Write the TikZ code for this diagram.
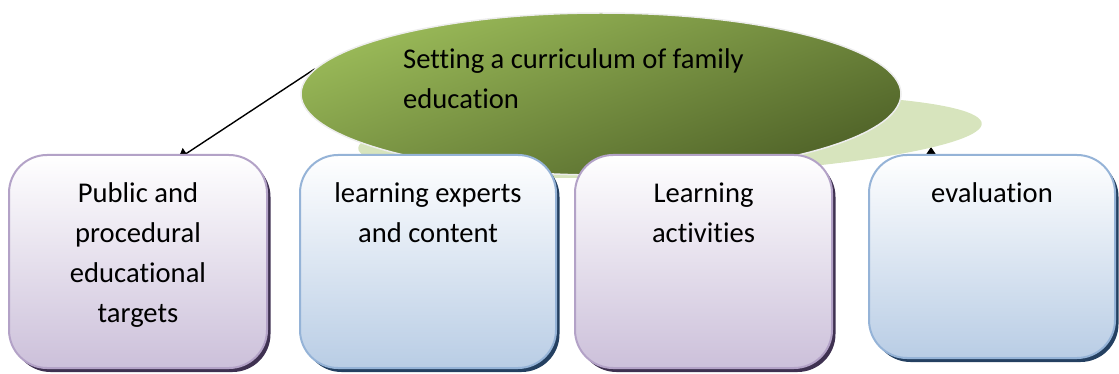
\documentclass[tikz,border=0pt]{standalone}
\usepackage{fontspec}
\setmainfont[Ligatures=NoCommon]{Carlito}
\usetikzlibrary{arrows.meta,positioning,shapes.geometric,shadows,backgrounds}
\definecolor{leafgreen}{RGB}{155,187,89}
\definecolor{darkleaf}{RGB}{79,98,40}
\definecolor{palegreen}{RGB}{215,228,189}
\definecolor{lilacline}{RGB}{179,162,199}
\definecolor{lilacfill}{RGB}{204,192,218}
\definecolor{lilacshade}{RGB}{63,49,81}
\definecolor{skyline}{RGB}{149,179,215}
\definecolor{skyfill}{RGB}{185,205,229}
\definecolor{skyshade}{RGB}{36,64,97}

\begin{document}
\begin{tikzpicture}[x=1pt,y=-1pt,>={Triangle[width=13pt,length=10pt]},on grid,
  font=\fontsize{28.6}{40}\selectfont]
\tikzstyle{card} = [rounded corners=38pt,line width=2pt,minimum height=213pt,inner sep=0pt,top color=white]
\tikzstyle{lilac} = [card,draw=lilacline,bottom color=lilacfill,
  drop shadow={shadow xshift=3.5pt,shadow yshift=-4pt,fill=lilacshade,opacity=1}]
\tikzstyle{sky} = [card,draw=skyline,bottom color=skyfill,
  drop shadow={shadow xshift=3.5pt,shadow yshift=-4pt,fill=skyshade,opacity=1}]
\tikzstyle{words} = [align=center,anchor=north,inner sep=0pt]
    \useasboundingbox (0,0) rectangle (1119,374);

    % the two ovals on top
    \node[ellipse,fill=palegreen,minimum width=624pt,minimum height=80pt,
      rotate=2.3,inner sep=0pt] (backdrop) at (670,136) {};
    \node[ellipse,draw=white!93!black,line width=1.5pt,top color=leafgreen,
      bottom color=darkleaf,shading angle=20,minimum width=600pt,
      minimum height=162pt] (goal) at (601,94) {};
    \node[anchor=north west,align=left,inner sep=0pt] (goaltext) at (403,40)
      {\strut Setting a curriculum of family\\education};

    % the four cards
    \node[lilac,minimum width=258pt] (targets) at (138,261.5) {};
    \node[sky,minimum width=256pt] (experts) [right=290pt of targets] {};
    \node[lilac,minimum width=257pt] (activities) [right=275.5pt of experts] {};
    \node[sky,minimum width=246pt,minimum height=203pt] (evaluation)
      [right=288.5pt of activities,yshift=5pt] {};

    \node[words] (targetstext) at ([yshift=-20pt]targets.north)
      {\strut Public and\\procedural\\educational\\targets};
    \node[words] (expertstext) at ([yshift=-20pt]experts.north)
      {\strut learning experts\\and content};
    \node[words] (activitiestext) at ([yshift=-20pt]activities.north)
      {\strut Learning\\activities};
    \node[words] (evaluationtext) at ([yshift=-20pt]evaluation.north)
      {\strut evaluation};

    \begin{pgfonlayer}{background}
    \tikzset{mystyle/.style={->,line width=1.4pt}}
    \draw[mystyle] (goal.175) -- ([xshift=40pt,yshift=-5pt]targets.north);
    \draw[mystyle,shorten >=11pt] ([xshift=-61pt,yshift=-20pt]evaluation.north)
      -- ([xshift=-61pt]evaluation.north |- backdrop.center);
    \end{pgfonlayer}
\end{tikzpicture}
\end{document}
